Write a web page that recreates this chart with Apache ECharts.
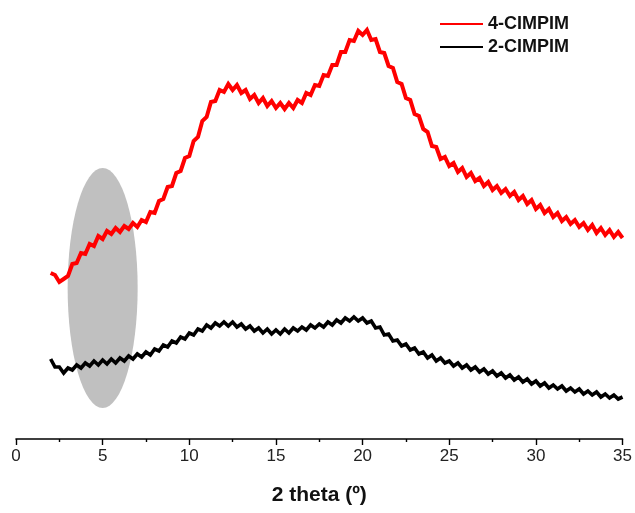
<!DOCTYPE html>
<html>
<head>
<meta charset="utf-8">
<script src="https://cdn.jsdelivr.net/npm/echarts@6/dist/echarts.min.js"></script>
<style>
html,body{margin:0;padding:0;background:#fff;}
#chart{width:635px;height:513px;}
</style>
</head>
<body>
<div id="chart"></div>
<script>
// 2 theta angles (degrees)
const angles = [
  2.00,2.25,2.50,2.75, 3.00,3.25,3.50,3.75, 4.00,4.25,4.50,4.75, 5.00,5.25,5.50,5.75,
  6.00,6.25,6.50,6.75, 7.00,7.25,7.50,7.75, 8.00,8.25,8.50,8.75, 9.00,9.25,9.50,9.75,
  10.00,10.25,10.50,10.75, 11.00,11.25,11.50,11.75, 12.00,12.25,12.50,12.75, 13.00,13.25,13.50,13.75,
  14.00,14.25,14.50,14.75, 15.00,15.25,15.50,15.75, 16.00,16.25,16.50,16.75, 17.00,17.25,17.50,17.75,
  18.00,18.25,18.50,18.75, 19.00,19.25,19.50,19.75, 20.00,20.25,20.50,20.75, 21.00,21.25,21.50,21.75,
  22.00,22.25,22.50,22.75, 23.00,23.25,23.50,23.75, 24.00,24.25,24.50,24.75, 25.00,25.25,25.50,25.75,
  26.00,26.25,26.50,26.75, 27.00,27.25,27.50,27.75, 28.00,28.25,28.50,28.75, 29.00,29.25,29.50,29.75,
  30.00,30.25,30.50,30.75, 31.00,31.25,31.50,31.75, 32.00,32.25,32.50,32.75, 33.00,33.25,33.50,33.75,
  34.00,34.25,34.50,34.75, 35.00
];

// 4-CIMPIM intensity (arbitrary units)
const red4 = [
  166,164,157,160, 163,175,176,186, 185,195,193,203, 200,208,205,211,
  207,213,210,216, 212,219,217,227, 226,238,240,252, 253,266,268,281,
  283,298,302,318, 322,337,338,349, 347,355,349,354, 346,349,340,344,
  336,341,333,338, 331,336,330,336, 331,339,336,346, 344,354,353,364,
  363,374,374,387, 387,399,398,408, 404,409,399,400, 387,386,373,371,
  357,355,341,339, 325,323,310,307, 293,292,280,282, 273,276,267,271,
  262,266,258,261, 253,257,249,253, 246,250,243,247, 239,243,235,239,
  230,234,226,230, 222,226,218,222, 215,219,212,216, 209,214,206,211,
  204,209,202,207, 201
];

// 2-CIMPIM intensity (arbitrary units)
const black2 = [
  80,72,72,66, 71,69,74,71, 76,73,78,74, 79,75,80,76,
  81,78,83,80, 85,82,87,84, 90,88,94,92, 98,96,102,100,
  106,104,110,108, 114,111,116,113, 117,113,117,112, 115,110,113,108,
  111,106,110,105, 109,105,110,106, 111,108,112,109, 114,111,115,112,
  117,114,119,116, 121,118,122,118, 121,116,118,111, 112,104,105,98,
  99,93,95,89, 91,85,87,81, 84,78,81,76, 78,73,76,71,
  74,69,72,67, 70,65,68,63, 66,61,64,59, 62,57,60,55,
  58,53,56,51, 54,50,53,48, 51,47,50,45, 48,44,47,42,
  45,41,44,40, 42
];

const seriesNames = ['4-CIMPIM', '2-CIMPIM'];
// highlight ellipse: [center angle, center intensity, full width (deg), full height (a.u.)]
const highlightEllipse = [[5, 151, 4.04, 240]];

const chart = echarts.init(document.getElementById('chart'), null, {renderer: 'canvas'});
const font = '"Liberation Sans", Arial, sans-serif';

chart.setOption({
  animation: false,
  backgroundColor: '#ffffff',
  grid: {left: 16, right: 12, top: 0, bottom: 74, containLabel: false},
  legend: {
    data: seriesNames,
    orient: 'vertical',
    left: 435,
    top: 10,
    itemWidth: 43,
    itemHeight: 2,
    itemGap: 5,
    icon: 'rect',
    textStyle: {fontFamily: font, fontSize: 18, fontWeight: 'bold', color: '#111', lineHeight: 18}
  },
  xAxis: {
    type: 'value',
    min: 0,
    max: 35,
    interval: 5,
    name: '2 theta (º)',
    nameLocation: 'middle',
    nameGap: 46,
    nameTextStyle: {fontFamily: font, fontSize: 21, fontWeight: 'bold', color: '#111'},
    axisLine: {show: true, onZero: false, lineStyle: {color: '#000', width: 1.6}},
    axisTick: {show: true, inside: false, length: 6, lineStyle: {color: '#000', width: 1.4}},
    minorTick: {show: true, splitNumber: 2, length: 3, lineStyle: {color: '#000', width: 1.4}},
    axisLabel: {fontFamily: font, fontSize: 17, color: '#222', margin: 9},
    splitLine: {show: false},
    minorSplitLine: {show: false}
  },
  yAxis: {
    type: 'value',
    min: 0,
    max: 439,
    show: false,
    splitLine: {show: false}
  },
  series: [
    {
      type: 'custom',
      name: 'highlight',
      z: 1,
      silent: true,
      data: highlightEllipse,
      renderItem: function (params, api) {
        const c = api.coord([api.value(0), api.value(1)]);
        const s = api.size([api.value(2), api.value(3)]);
        const rx = s[0] / 2, ry = s[1] / 2;
        return {
          type: 'circle',
          x: c[0], y: c[1],
          scaleY: ry / rx,
          shape: {cx: 0, cy: 0, r: rx},
          style: {fill: '#c0c0c0', stroke: null}
        };
      }
    },
    {
      name: seriesNames[0],
      type: 'line',
      z: 3,
      showSymbol: false,
      symbol: 'none',
      color: '#ff0000',
      lineStyle: {color: '#ff0000', width: 4, join: 'miter'},
      data: angles.map((a, i) => [a, red4[i]])
    },
    {
      name: seriesNames[1],
      type: 'line',
      z: 3,
      showSymbol: false,
      symbol: 'none',
      color: '#000000',
      lineStyle: {color: '#000000', width: 3.6, join: 'miter'},
      data: angles.map((a, i) => [a, black2[i]])
    }
  ]
});
</script>
</body>
</html>
